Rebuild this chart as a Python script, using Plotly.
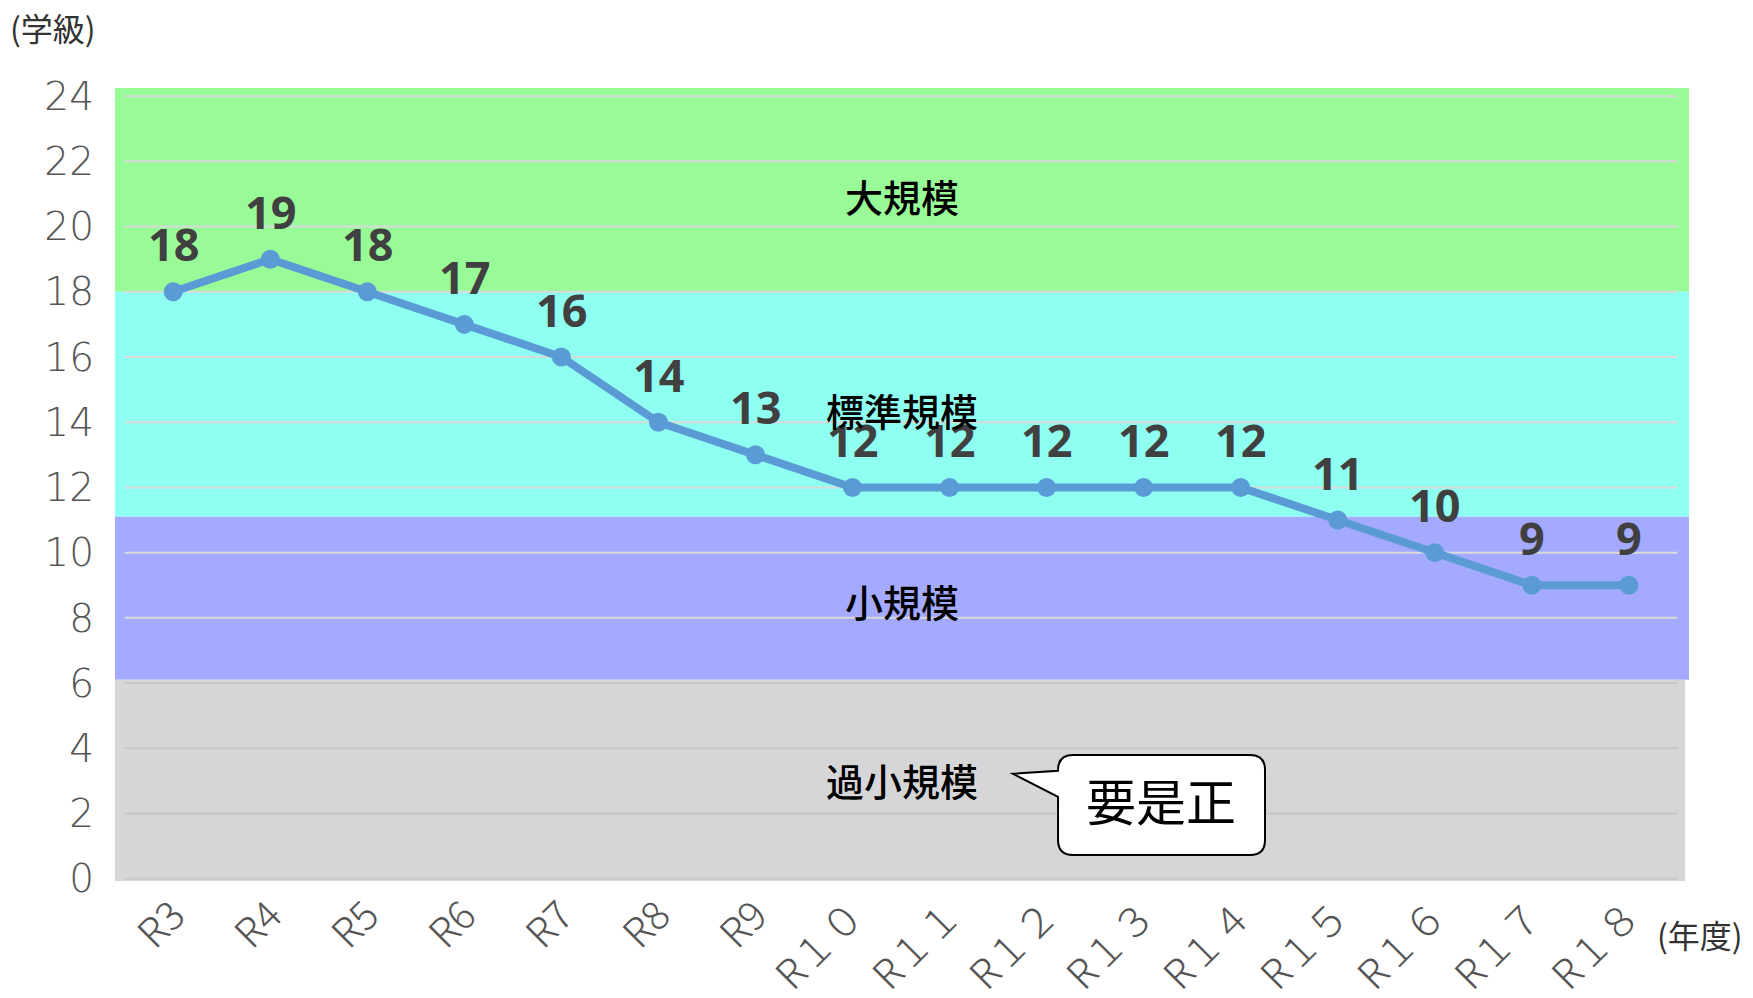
import plotly.graph_objects as go

# 年度ごとの学級数
years = ["R3", "R4", "R5", "R6", "R7", "R8", "R9", "R１０", "R１１", "R１２",
         "R１３", "R１４", "R１５", "R１６", "R１７", "R１８"]
classes = [18, 19, 18, 17, 16, 14, 13, 12, 12, 12, 12, 12, 11, 10, 9, 9]

# 学校規模の区分 (下限, 上限, 名称, 名称の表示位置)
band_names = ["大規模", "標準規模", "小規模", "過小規模"]
band_low = [18, 11.1, 6.1, -0.07]
band_high = [24.25, 18, 11.1, 6.1]
band_label_y = [20.94, 14.4, 8.54, 3.04]
band_colors = ["#99FB98", "#8EFFF1", "#A4AAFF", "#D6D5D7"]

y_ticks = list(range(0, 25, 2))

X_RANGE = [-0.6, 15.62]
Y_RANGE = [-0.07, 24.25]
LINE_COLOR = "#5B9BD5"
Y_TICK_FONT = dict(family="DejaVu Sans", size=39, color="#555555", weight=200)
X_TICK_FONT = dict(family="Noto Sans CJK JP", size=40, color="#555555", weight=300)

fig = go.Figure()

shapes = []
for lo, hi, col in zip(band_low, band_high, band_colors):
    x1 = 15.58 if lo < 0 else X_RANGE[1]
    shapes.append(dict(type="rect", xref="x", yref="y", x0=X_RANGE[0], x1=x1,
                       y0=lo, y1=hi, fillcolor=col, line=dict(width=0),
                       layer="below"))

# 目盛線(区分の色の上に重ねる)
for t in y_ticks:
    shapes.append(dict(type="line", xref="x", yref="y", x0=-0.5, x1=15.5,
                       y0=t, y1=t,
                       line=dict(color="#C6C6C6" if t <= 6 else "#D9D9D9", width=2),
                       layer="below"))

# 吹き出し
bx0, bx1, by0, by1 = 9.118, 11.251, 0.727, 3.793
rx, ry = 0.155, 0.46
tip_x, tip_y = 8.654, 3.217
tail_hi, tail_lo = 3.309, 2.511
callout = (
    f"M {bx0 + rx},{by1} L {bx1 - rx},{by1} Q {bx1},{by1} {bx1},{by1 - ry} "
    f"L {bx1},{by0 + ry} Q {bx1},{by0} {bx1 - rx},{by0} "
    f"L {bx0 + rx},{by0} Q {bx0},{by0} {bx0},{by0 + ry} "
    f"L {bx0},{tail_lo} L {tip_x},{tip_y} L {bx0},{tail_hi} "
    f"L {bx0},{by1 - ry} Q {bx0},{by1} {bx0 + rx},{by1} Z"
)
shapes.append(dict(type="path", xref="x", yref="y", path=callout,
                   fillcolor="white", line=dict(color="black", width=2),
                   layer="above"))

fig.add_trace(go.Scatter(
    x=list(range(len(years))), y=classes, mode="lines+markers",
    line=dict(color=LINE_COLOR, width=8),
    marker=dict(color=LINE_COLOR, size=19),
    hoverinfo="skip", showlegend=False,
))

annotations = []
for i, v in enumerate(classes):
    annotations.append(dict(
        x=i, y=v, xref="x", yref="y", text=str(v), showarrow=False,
        yanchor="middle", yshift=48,
        font=dict(family="Noto Sans", size=45, color="#404040", weight="bold"),
    ))

for name, ly in zip(band_names, band_label_y):
    annotations.append(dict(
        x=7.51, y=ly, xref="x", yref="y", text=name, showarrow=False,
        font=dict(family="Noto Sans CJK JP", size=38, color="black", weight=500),
    ))

annotations.append(dict(
    x=10.18, y=2.45, xref="x", yref="y", text="要是正", showarrow=False,
    font=dict(family="Noto Sans CJK JP", size=50, color="black", weight=400),
))

annotations.append(dict(
    x=-0.0394, y=1.077, xref="paper", yref="paper", text="(学級)",
    xanchor="center", yanchor="middle",
    showarrow=False, font=dict(family="Noto Sans CJK JP", size=32, color="#333333"),
))
annotations.append(dict(
    x=1.007, y=-0.0668, xref="paper", yref="paper", text="(年度)",
    xanchor="center", yanchor="middle",
    showarrow=False, font=dict(family="Noto Sans CJK JP", size=32, color="#333333"),
))

fig.update_layout(
    width=1753, height=998,
    margin=dict(l=115, r=64, t=88, b=117, autoexpand=False),
    paper_bgcolor="white", plot_bgcolor="white",
    shapes=shapes, annotations=annotations,
    xaxis=dict(range=X_RANGE, tickmode="array",
               tickvals=list(range(len(years))), ticktext=years,
               tickangle=-45, showgrid=False, zeroline=False, showline=False,
               ticks="", tickfont=X_TICK_FONT, ticklabelstandoff=2,
               automargin=False),
    yaxis=dict(range=Y_RANGE, tickmode="array", tickvals=y_ticks,
               showgrid=False, zeroline=False, showline=False, ticks="",
               tickfont=Y_TICK_FONT, ticklabelstandoff=20, automargin=False),
)

fig.write_html("out.html")
